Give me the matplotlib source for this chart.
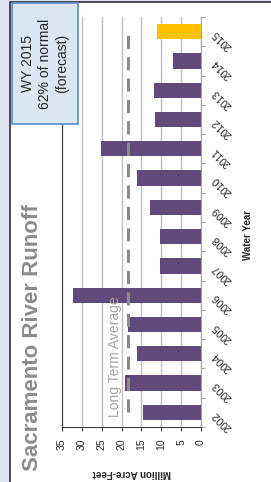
import numpy as np
import matplotlib.pyplot as plt
from matplotlib.patches import Rectangle

plt.rcParams['font.family'] = ['Liberation Sans', 'DejaVu Sans']

# data (million acre-feet)
years = ['2002', '2003', '2004', '2005', '2006', '2007', '2008',
         '2009', '2010', '2011', '2012', '2013', '2014', '2015']
runoff = [14.5, 19.2, 16.0, 18.4, 32.2, 10.3, 10.3,
          12.9, 16.0, 25.2, 11.7, 11.8, 7.1, 11.1]
long_term_avg = 18.3
x_ticks = [0, 5, 10, 15, 20, 25, 30, 35]

purple = '#604a7b'
yellow = '#ffc000'
bar_colors = [purple] * (len(years) - 1) + [yellow]

W, H = 271, 482
fig = plt.figure(figsize=(W / 100, H / 100), dpi=100, facecolor='#dde4f0')

#white chart area with dark frame (cut at right/bottom)
fig.patches.append(Rectangle((10 / W, -0.05), 1.0, 1.05 - 2 / H, transform=fig.transFigure,
                             facecolor='white', edgecolor='#404040', lw=1.3, zorder=-1))

ax = fig.add_axes([62 / W, 1 - 427 / H, (201 - 62) / W, (427 - 17) / H])
y = np.arange(len(years))
ax.barh(y, runoff, height=0.52, color=bar_colors, zorder=3)
ax.plot([long_term_avg] * len(years), y, color='#8c8c8c', lw=2.2,
        ls=(0, (4.3, 2.7)), zorder=4)
ax.text(21.7, 1.9, 'Long Term Average', rotation=90, ha='center', va='center',
        fontsize=10, color='#a6a6a6', zorder=5)

ax.set_xlim(35, 0)
ax.set_ylim(-0.5, len(years) - 0.5)
ax.set_xticks(x_ticks)
ax.xaxis.grid(True, color='#c0c0c0', lw=1)
ax.set_axisbelow(True)

ax.spines['top'].set_visible(False)
ax.spines['left'].set_color('#404040')
ax.spines['bottom'].set_color('#404040')
ax.spines['right'].set_color('#a6a6a6')

ax.tick_params(axis='x', direction='out', length=3, color='#404040', pad=5.5,
               labelsize=7.5, labelcolor='#262626', labelrotation=90)

#category boundaries as major ticks, year names on minor ticks
ax.set_yticks(np.arange(-0.5, len(years), 1.0))
ax.set_yticklabels([])
ax.set_yticks(y, minor=True)
ax.set_yticklabels(years, minor=True)
ax.tick_params(axis='y', which='major', left=False, right=True, labelleft=False,
               length=3, color='#a6a6a6')
ax.tick_params(axis='y', which='minor', left=False, right=False, labelleft=False,
               labelright=True, length=0, pad=9, labelsize=7.5, labelcolor='#262626')
for t in ax.yaxis.get_minor_ticks():
    t.label2.set_rotation(135)
    t.label2.set_rotation_mode('anchor')
    t.label2.set_ha('right')
    t.label2.set_va('center')

ax.set_xlabel('Million Acre-Feet', fontsize=7, fontweight='bold', rotation=180,
              va='center', color='#262626')
ax.xaxis.set_label_coords(0.5, -0.112)
ax.yaxis.set_label_position('right')
ax.set_ylabel('Water Year', fontsize=7, fontweight='bold', rotation=90,
              va='center', ha='center', color='#262626')
ax.yaxis.set_label_coords((248 - 62) / 139, (427 - 235) / 410)

fig.text(33 / W, 1 - 338 / H, 'Sacramento River Runoff', rotation=90,
         ha='center', va='center', fontsize=16, fontweight='bold', color='#8c8c8c')

#forecast box
fig.patches.append(Rectangle((12 / W, 1 - 124 / H), 66 / W, 121 / H, transform=fig.transFigure,
                             facecolor='#dce6f2', edgecolor='#5b8bd0', lw=1.2, zorder=2))
fig.text(45 / W, 1 - 63.5 / H, 'WY 2015\n62% of normal\n(forecast)', rotation=90,
         ha='center', va='center', multialignment='center', fontsize=10,
         linespacing=1.27, color='#262626', zorder=3)

fig.savefig('out.png', dpi=100)
